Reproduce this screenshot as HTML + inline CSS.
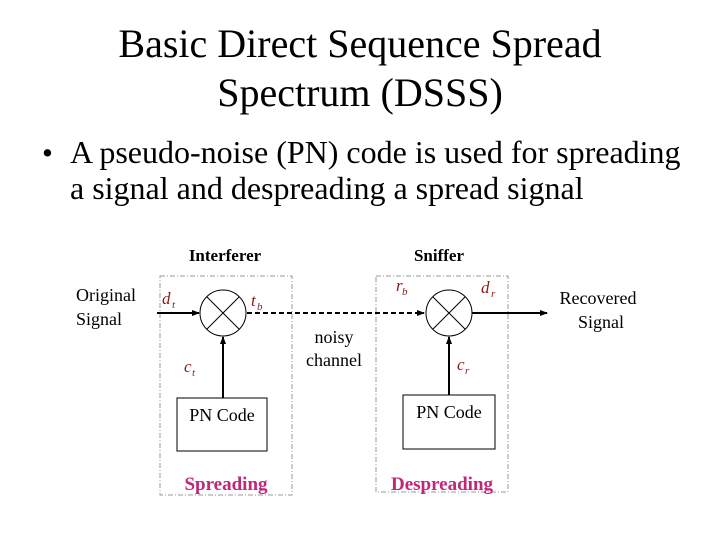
<!DOCTYPE html>
<html><head><style>
body{margin:0;background:#fff;}
</style></head><body>
<svg width="720" height="540" xmlns="http://www.w3.org/2000/svg" font-family="Liberation Serif, serif">
<defs><marker id="a" markerWidth="8" markerHeight="8" refX="7" refY="4" orient="auto" markerUnits="userSpaceOnUse"><path d="M0,1 L8,4 L0,7 z" fill="#000"/></marker></defs>
<text x="360" y="57" font-size="40" text-anchor="middle">Basic Direct Sequence Spread</text>
<text x="360" y="106" font-size="40" text-anchor="middle">Spectrum (DSSS)</text>
<text x="42" y="163" font-size="31">•</text>
<text x="70" y="163" font-size="32">A pseudo-noise (PN) code is used for spreading</text>
<text x="70" y="199" font-size="32">a signal and despreading a spread signal</text>
<text x="225" y="261" font-size="17" font-weight="bold" text-anchor="middle">Interferer</text>
<text x="439" y="261" font-size="17" font-weight="bold" text-anchor="middle">Sniffer</text>
<rect x="160" y="276" width="132" height="219" fill="none" stroke="#999" stroke-dasharray="5,2,1,2"/>
<rect x="376" y="276" width="132" height="216" fill="none" stroke="#999" stroke-dasharray="5,2,1,2"/>
<text x="76" y="301" font-size="18">Original</text>
<text x="76" y="325" font-size="18">Signal</text>
<line x1="157" y1="313" x2="199" y2="313" stroke="#000" stroke-width="2" marker-end="url(#a)"/>
<circle cx="223" cy="313" r="23" fill="#fff" stroke="#000"/>
<line x1="207" y1="297" x2="239" y2="329" stroke="#000"/><line x1="239" y1="297" x2="207" y2="329" stroke="#000"/>
<line x1="223" y1="398" x2="223" y2="337" stroke="#000" stroke-width="2" marker-end="url(#a)"/>
<rect x="177" y="398" width="90" height="53" fill="#fff" stroke="#000"/>
<text x="222" y="421" font-size="18" text-anchor="middle">PN Code</text>
<text x="226" y="490" font-size="19" font-weight="bold" fill="#c0267a" text-anchor="middle">Spreading</text>
<line x1="247" y1="313" x2="424" y2="313" stroke="#000" stroke-width="2" stroke-dasharray="5,3" marker-end="url(#a)"/>
<text x="334" y="343" font-size="18" text-anchor="middle">noisy</text>
<text x="334" y="366" font-size="18" text-anchor="middle">channel</text>
<circle cx="449" cy="313" r="23" fill="#fff" stroke="#000"/>
<line x1="433" y1="297" x2="465" y2="329" stroke="#000"/><line x1="465" y1="297" x2="433" y2="329" stroke="#000"/>
<line x1="449" y1="395" x2="449" y2="337" stroke="#000" stroke-width="2" marker-end="url(#a)"/>
<rect x="403" y="395" width="92" height="54" fill="#fff" stroke="#000"/>
<text x="449" y="418" font-size="18" text-anchor="middle">PN Code</text>
<text x="442" y="490" font-size="19" font-weight="bold" fill="#c0267a" text-anchor="middle">Despreading</text>
<line x1="472" y1="313" x2="547" y2="313" stroke="#000" stroke-width="2" marker-end="url(#a)"/>
<text x="598" y="304" font-size="18" text-anchor="middle">Recovered</text>
<text x="601" y="328" font-size="18" text-anchor="middle">Signal</text>
<g fill="#8b1a1a" font-style="italic" font-size="17">
<text x="162" y="304">d</text><text x="172" y="308" font-size="11">t</text>
<text x="251" y="306">t</text><text x="257" y="310" font-size="11">b</text>
<text x="184" y="372">c</text><text x="192" y="376" font-size="11">t</text>
<text x="396" y="291">r</text><text x="402" y="295" font-size="11">b</text>
<text x="481" y="293">d</text><text x="491" y="297" font-size="11">r</text>
<text x="457" y="370">c</text><text x="465" y="374" font-size="11">r</text>
</g>
</svg>
</body></html>
